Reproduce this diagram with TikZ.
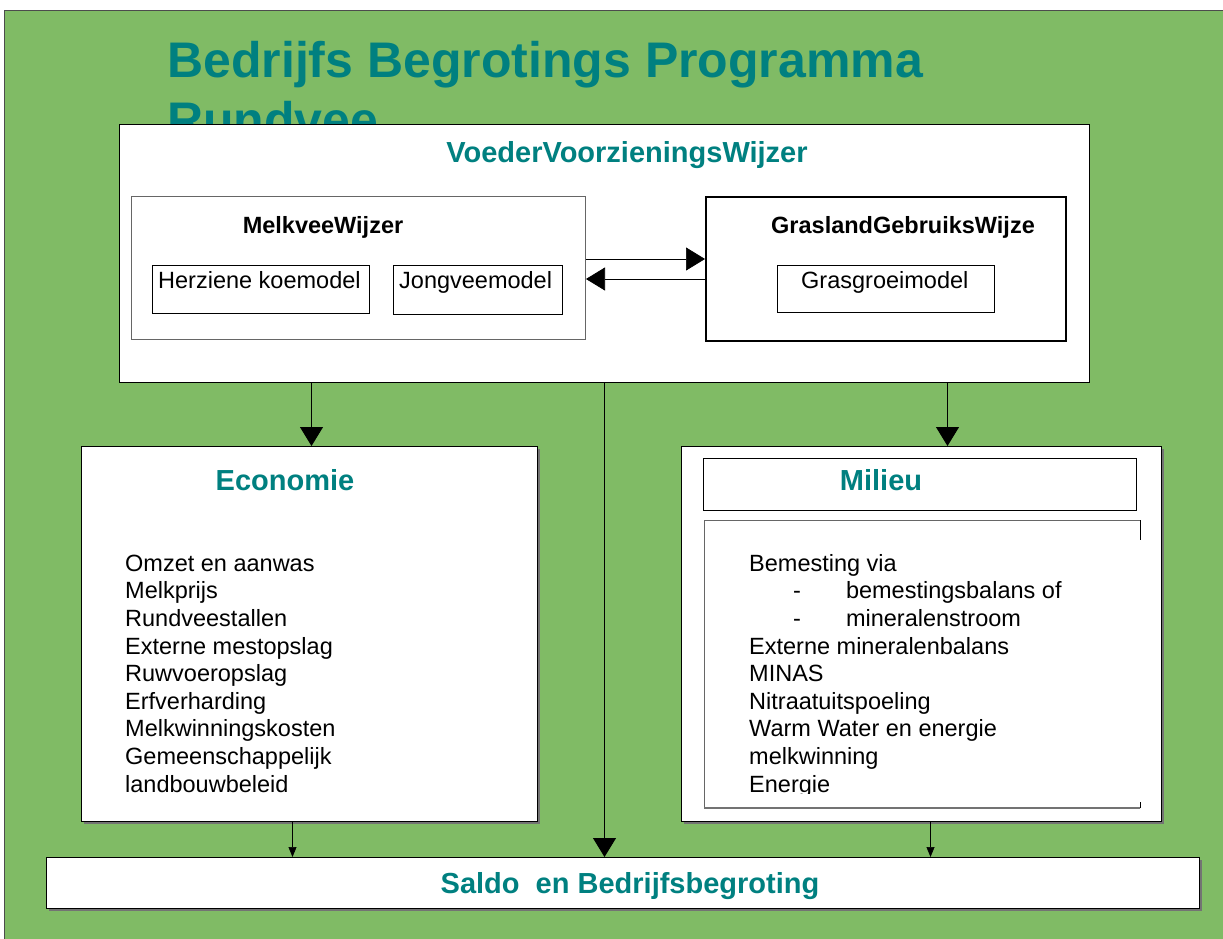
\documentclass[tikz,border=0pt]{standalone}
\usepackage{fontspec}
\setmainfont{Liberation Sans}
\usetikzlibrary{arrows.meta,shadows}
\definecolor{bggreen}{RGB}{128,187,101}
\definecolor{teal}{RGB}{0,128,128}
\tikzset{
  box/.style={draw=black, fill=white, line width=1pt, inner sep=0pt, anchor=north west},
  shbox/.style={box, drop shadow={shadow xshift=2pt, shadow yshift=-2pt, fill=black!55, opacity=1}},
  txt/.style={inner sep=0pt, font=\fontsize{23.5}{27.6}\selectfont},
  btxt/.style={inner sep=0pt, font=\fontsize{23.5}{27.6}\selectfont\bfseries},
  head/.style={inner sep=0pt, text=teal, font=\fontsize{29}{34}\selectfont\bfseries},
  bigarrow/.style={line width=0.9pt, -{Triangle[length=19pt,width=23pt]}},
  smallarrow/.style={line width=0.7pt, -{Triangle[length=10pt,width=8pt]}},
}
\begin{document}
\begin{tikzpicture}[x=1pt,y=-1pt]
\useasboundingbox (0,0) rectangle (1223,939);
\fill[white] (0,0) rectangle (1223,939);
\fill[bggreen] (4,11) rectangle (1223,939);
\draw[black!70, line width=1pt] (4,939) -- (4,11) -- (1223,11);
% title (anchor = baseline of the last line)
\node[inner sep=0pt, anchor=base west, align=left, text=teal,
  font=\fontsize{50}{60}\selectfont\bfseries] (title) at (167,138)
  {Bedrijfs Begrotings Programma\\Rundvee};
% VoederVoorzieningsWijzer
\node[box, minimum width=970pt, minimum height=258pt] (vvw) at (119,124) {};
\node[head, anchor=base] (vvwt) at (627,162) {VoederVoorzieningsWijzer};
% MelkveeWijzer
\node[box, draw=black!60, minimum width=454pt, minimum height=143pt] (mw) at (131,196) {};
\node[btxt, anchor=base] (mwt) at (323,233) {MelkveeWijzer};
\node[box, minimum width=217pt, minimum height=48pt] (hk) at (152,265) {};
\node[txt, anchor=base west] (hkt) at (158,288) {Herziene koemodel};
\node[box, minimum width=169pt, minimum height=49pt] (jv) at (393,265) {};
\node[txt, anchor=base west] (jvt) at (399,288) {Jongveemodel};
% GraslandGebruiksWijze
\node[box, line width=2pt, minimum width=360pt, minimum height=144pt] (ggw) at (705,196) {};
\node[btxt, anchor=base] (ggwt) at (903,233) {GraslandGebruiksWijze};
\node[box, minimum width=217pt, minimum height=47pt] (gg) at (777,265) {};
\node[txt, anchor=base west] (ggt) at (801,288) {Grasgroeimodel};
% arrows between wijzers
\draw[bigarrow, line width=0.7pt] ([yshift=9pt]mw.east) -- ([yshift=9pt]mw.east -| ggw.west);
\draw[bigarrow, line width=0.7pt] ([yshift=-10pt]ggw.west) -- ([yshift=-10pt]ggw.west -| mw.east);
% Economie
\node[shbox, minimum width=456pt, minimum height=375pt] (eco) at (81,446) {};
\node[head, anchor=base] (ecot) at (285,490) {Economie};
\node[txt, anchor=base west, align=left] (ecol) at (125,792)
  {Omzet en aanwas\\Melkprijs\\Rundveestallen\\Externe mestopslag\\Ruwvoeropslag\\Erfverharding\\Melkwinningskosten\\Gemeenschappelijk\\landbouwbeleid};
% Milieu
\node[shbox, minimum width=480pt, minimum height=375pt] (mil) at (681,446) {};
\node[box, minimum width=433pt, minimum height=52pt] (milt) at (703,458) {};
\node[head, anchor=base] (miltt) at (881,490) {Milieu};
\node[inner sep=0pt, anchor=north west, minimum width=436pt, minimum height=288pt] (milc) at (704,520) {};
\draw[black!60, line width=1pt] (milc.north east) -- (milc.north west) -- (milc.south west);
\draw[black!55, line width=2pt] (milc.south west) -- (milc.south east);
\draw[black, line width=1pt] (milc.north east) -- ++(0,20);
\draw[black, line width=1pt] (milc.south east) -- ++(0,-6);
\begin{scope}
\clip (704,520) rectangle (1140,793);
\node[txt, anchor=base west, align=left] (mill) at (749,792)
  {Bemesting via\\
   \hspace*{44pt}-\hspace*{45pt}bemestingsbalans of\\
   \hspace*{44pt}-\hspace*{45pt}mineralenstroom\\
   Externe mineralenbalans\\MINAS\\Nitraatuitspoeling\\Warm Water en energie\\melkwinning\\Energie};
\end{scope}
% Saldo
\node[shbox, minimum width=1153pt, minimum height=51pt] (saldo) at (46,857) {};
\node[head, anchor=base] (saldot) at (630,893) {Saldo \ en Bedrijfsbegroting};
% arrows down
\draw[bigarrow] ([xshift=2pt]eco.north |- vvw.south) -- ([xshift=2pt]eco.north);
\draw[bigarrow] ([xshift=26pt]mil.north |- vvw.south) -- ([xshift=26pt]mil.north);
\draw[bigarrow] (vvw.south) -- (vvw.south |- saldo.north);
\draw[smallarrow] ([xshift=-17pt]eco.south) -- ([xshift=-17pt]eco.south |- saldo.north);
\draw[smallarrow] ([xshift=9pt]mil.south) -- ([xshift=9pt]mil.south |- saldo.north);
\end{tikzpicture}
\end{document}
